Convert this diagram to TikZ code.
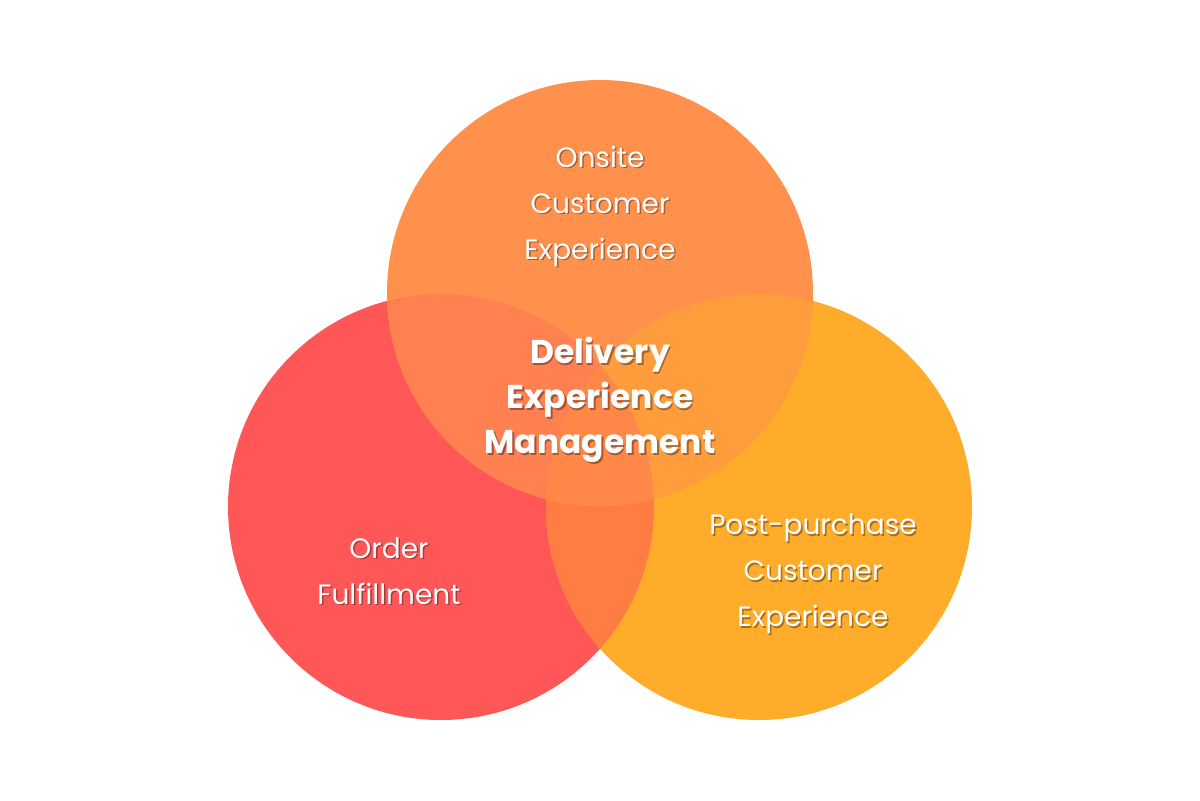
\documentclass[tikz,border=0pt]{standalone}
\usepackage{fontspec}
\setmainfont{Poppins}
\definecolor{cleft}{HTML}{FF5757}
\definecolor{ctop}{HTML}{FF914D}
\definecolor{cright}{HTML}{FFAC2A}
\colorlet{cLT}{ctop!70!cleft}
\colorlet{cTR}{ctop!55!cright}
\colorlet{cLR}{cright!45!cleft}
\colorlet{cLTR}{ctop!55!cLR}
\tikzset{
  lbl/.style={text=white, align=center, font=\fontsize{14}{23}\selectfont},
  bold/.style={text=white, align=center, font=\fontsize{16.5}{22.5}\selectfont\bfseries},
  shd/.style={text=black, opacity=0.35},
}
\newcommand{\shlabel}[4]{%
  \node[#1,shd] at ([shift={(1.5,1.5)}]#2) {#4};
  \node[#1] (#3) at (#2) {#4};}
\begin{document}
\begin{tikzpicture}[x=0.5pt,y=-0.5pt]
\useasboundingbox (0,0) rectangle (1200,800);
\fill[white] (0,0) rectangle (1200,800);
\coordinate (L) at (441,507);
\coordinate (T) at (600,293);
\coordinate (R) at (759,507);
\def\rad{213}
\fill[cleft] (L) circle[radius=\rad];
\fill[cright] (R) circle[radius=\rad];
\fill[ctop] (T) circle[radius=\rad];
\begin{scope}
  \clip (L) circle[radius=\rad];
  \fill[cLT] (T) circle[radius=\rad];
  \fill[cLR] (R) circle[radius=\rad];
  \clip (T) circle[radius=\rad];
  \fill[cLTR] (R) circle[radius=\rad];
\end{scope}
\begin{scope}
  \clip (T) circle[radius=\rad];
  \clip (R) circle[radius=\rad];
  \fill[cTR] (T) circle[radius=\rad];
  \clip (L) circle[radius=\rad];
  \fill[cLTR] (L) circle[radius=\rad];
\end{scope}
\shlabel{lbl}{600,206}{onsite}{Onsite\\Customer\\Experience}
\shlabel{lbl}{389,571}{order}{Order\\Fulfillment}
\shlabel{lbl}{813,574}{post}{Post-purchase\\Customer\\Experience}
\shlabel{bold}{600,400}{mid}{Delivery\\Experience\\Management}
\end{tikzpicture}
\end{document}
